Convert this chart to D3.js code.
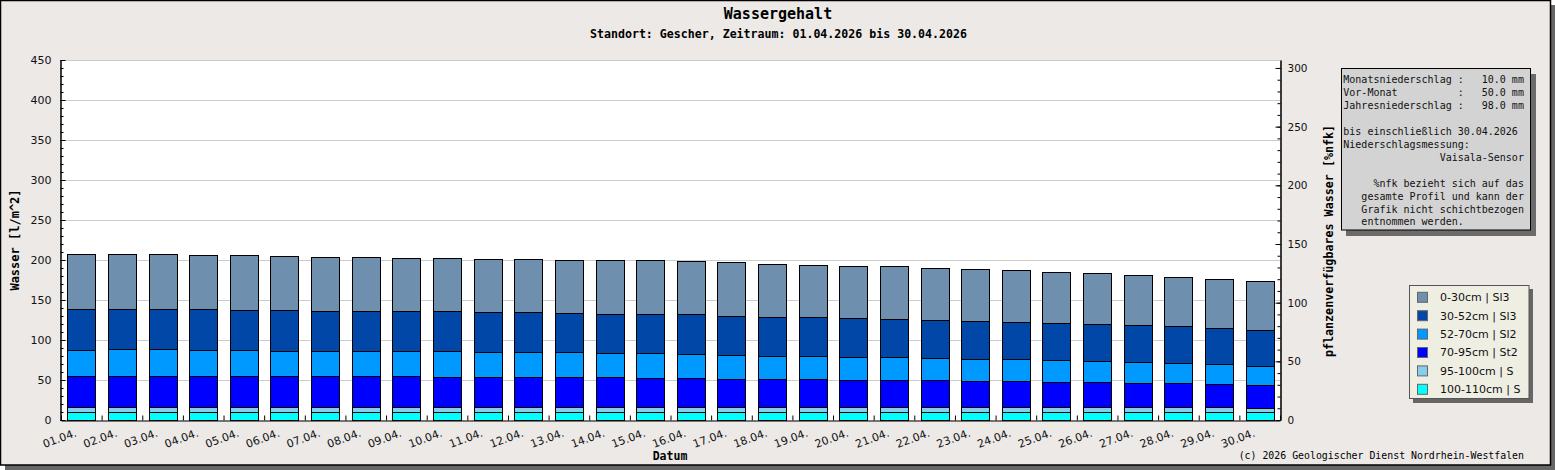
<!DOCTYPE html>
<html>
<head>
<meta charset="utf-8">
<script src="https://cdn.jsdelivr.net/npm/d3@7"></script>
<style>
  body { margin: 0; background: #fff; }
  svg { display: block; }
</style>
</head>
<body>
<script>
// Tageswerte Wassergehalt je Schicht (l/m^2), April 2026
const days = ["01.04.", "02.04.", "03.04.", "04.04.", "05.04.", "06.04.", "07.04.", "08.04.", "09.04.", "10.04.",
              "11.04.", "12.04.", "13.04.", "14.04.", "15.04.", "16.04.", "17.04.", "18.04.", "19.04.", "20.04.",
              "21.04.", "22.04.", "23.04.", "24.04.", "25.04.", "26.04.", "27.04.", "28.04.", "29.04.", "30.04."];

const layer0_30 = [68.8, 68.8, 68.8, 67.5, 68.7, 67.3, 68.4, 68.4, 67.1, 67.1,
                   67.1, 67.1, 67.1, 66.7, 67.5, 66.2, 67.5, 66.3, 65.0, 65.0,
                   66.3, 65.0, 65.0, 65.0, 63.8, 63.7, 62.5, 61.2, 61.2, 61.2];
const layer30_52 = [51.2, 50.0, 50.0, 51.2, 50.0, 51.3, 50.0, 50.0, 50.0, 50.0,
                    50.0, 50.0, 48.7, 49.6, 48.8, 50.0, 48.8, 48.7, 48.7, 48.8,
                    47.5, 47.5, 47.5, 46.3, 46.2, 46.3, 46.2, 46.3, 45.0, 45.0];
const layer52_70 = [32.1, 33.3, 33.3, 32.1, 32.1, 31.2, 31.2, 31.2, 31.2, 32.5,
                    31.3, 31.3, 31.3, 30.0, 31.2, 30.0, 30.0, 28.8, 28.8, 28.7,
                    28.7, 27.5, 27.5, 27.5, 27.5, 26.2, 26.3, 25.0, 25.0, 23.8];
const layer70_95 = [39.3, 39.3, 39.3, 39.3, 39.3, 38.9, 38.9, 38.9, 38.9, 37.6,
                    37.6, 37.6, 37.6, 37.6, 36.4, 36.4, 35.1, 35.1, 35.1, 33.9,
                    33.9, 33.9, 32.6, 32.6, 31.4, 31.4, 30.1, 30.1, 28.9, 27.9];
const layer95_100 = [5.2, 5.2, 5.2, 5.2, 5.2, 5.2, 5.2, 5.2, 5.2, 5.2,
                     5.2, 5.2, 5.2, 5.2, 5.2, 5.2, 5.2, 5.2, 5.2, 5.2,
                     5.2, 5.2, 5.2, 5.2, 5.2, 5.2, 5.2, 5.2, 5.2, 5.8];
const layer100_110 = [10.5, 10.5, 10.5, 10.5, 10.5, 10.5, 10.5, 10.5, 10.5, 10.5,
                      10.5, 10.5, 10.5, 10.5, 10.5, 10.5, 10.5, 10.5, 10.5, 10.5,
                      10.5, 10.5, 10.5, 10.5, 10.5, 10.5, 10.5, 10.5, 10.5, 9.6];

// von unten nach oben gestapelt
const layerNames = ["100-110cm | S", "95-100cm | S", "70-95cm | St2", "52-70cm | Sl2", "30-52cm | Sl3", "0-30cm | Sl3"];
const layerValues = [layer100_110, layer95_100, layer70_95, layer52_70, layer30_52, layer0_30];
const layerColors = ["#00ffff", "#87ceeb", "#0000ff", "#0099ff", "#0047a8", "#6f8fae"];

const leftTicks = [0, 50, 100, 150, 200, 250, 300, 350, 400, 450];
const rightTicks = [0, 50, 100, 150, 200, 250, 300];

const infoLines = [
  "Monatsniederschlag :   10.0 mm",
  "Vor-Monat          :   50.0 mm",
  "Jahresniederschlag :   98.0 mm",
  "",
  "bis einschließlich 30.04.2026",
  "Niederschlagsmessung:",
  "                Vaisala-Sensor",
  "",
  "     %nfk bezieht sich auf das",
  "   gesamte Profil und kann der",
  "   Grafik nicht schichtbezogen",
  "   entnommen werden."
];

const width = 1555, height = 470;
const mono = "'DejaVu Sans Mono', monospace";
const sans = "'DejaVu Sans', sans-serif";

const svg = d3.select("body").append("svg")
    .attr("width", width)
    .attr("height", height);

// Rahmen mit Schatten
svg.append("rect").attr("x", 5).attr("y", 5).attr("width", width - 5).attr("height", height - 5).attr("fill", "#666");
svg.append("rect").attr("x", 0.5).attr("y", 0.5).attr("width", 1550).attr("height", 464.5)
    .attr("fill", "#ece9e7").attr("stroke", "#000").attr("stroke-width", 1.5);

const table = days.map((d, i) => {
  const row = { day: d };
  layerNames.forEach((n, k) => row[n] = layerValues[k][i]);
  return row;
});
const series = d3.stack().keys(layerNames)(table);

const x = d3.scaleBand().domain(days).range([61, 1280]).paddingInner(0.31).paddingOuter(0.155);
const xl = d3.scaleLinear().domain([0, days.length]).range([61, 1280]);
const yL = d3.scaleLinear().domain([0, 450]).range([420, 60]);
const yR = d3.scaleLinear().domain([0, 306.8]).range([420, 60]);

// Plotfläche
svg.append("rect").attr("x", 61).attr("y", 60).attr("width", 1219).attr("height", 360).attr("fill", "#fff");

svg.append("g").selectAll("line")
  .data(leftTicks.filter(v => v > 0))
  .join("line")
    .attr("x1", 61).attr("x2", 1280)
    .attr("y1", d => Math.round(yL(d)) + 0.5).attr("y2", d => Math.round(yL(d)) + 0.5)
    .attr("stroke", "#cccccc");

// Balken
svg.append("g").selectAll("g")
  .data(series)
  .join("g")
    .attr("fill", (d, i) => layerColors[i])
  .selectAll("rect")
  .data(d => d)
  .join("rect")
    .attr("x", d => Math.round(x(d.data.day)) + 0.5)
    .attr("y", d => Math.round(yL(d[1])) + 0.5)
    .attr("width", Math.round(x.bandwidth()))
    .attr("height", d => Math.round(yL(d[0])) - Math.round(yL(d[1])))
    .attr("stroke", "#000")
    .attr("stroke-width", 1);

// Achsen
function styleAxis(g) {
  g.attr("font-family", sans).attr("font-size", 11);
  g.selectAll("text").attr("fill", "#111");
  g.selectAll("path,line").attr("stroke", "#000");
}

svg.append("g").attr("transform", "translate(60.5,0)")
    .call(d3.axisLeft(yL).tickValues(d3.range(0, 451, 10)).tickSize(-3).tickSizeOuter(0).tickFormat(""))
    .call(styleAxis);
svg.append("g").attr("transform", "translate(60.5,0)")
    .call(d3.axisLeft(yL).tickValues(leftTicks).tickSize(-5).tickSizeOuter(0).tickPadding(9))
    .call(styleAxis);

svg.append("g").attr("transform", "translate(1280.5,0)")
    .call(d3.axisRight(yR).tickValues(d3.range(0, 301, 10)).tickSize(-3).tickSizeOuter(0).tickFormat(""))
    .call(styleAxis);
svg.append("g").attr("transform", "translate(1280.5,0)")
    .call(d3.axisRight(yR).tickValues(rightTicks).tickSize(-5).tickSizeOuter(0).tickPadding(7))
    .call(styleAxis)
    .call(g => g.attr("font-size", 10.5));

svg.append("g").attr("transform", "translate(0,420.5)")
    .call(d3.axisBottom(xl).tickValues(d3.range(0, days.length + 1)).tickSize(-5).tickSizeOuter(0).tickFormat(""))
    .call(styleAxis);

svg.append("g").selectAll("text")
  .data(days)
  .join("text")
    .attr("transform", d => `translate(${x(d) + x.bandwidth() / 2 - 4},436) rotate(-20)`)
    .attr("text-anchor", "end")
    .attr("font-family", sans).attr("font-size", 11).attr("fill", "#111")
    .text(d => d);

// Titel
svg.append("text").attr("x", 778).attr("y", 19).attr("text-anchor", "middle")
    .attr("font-family", mono).attr("font-size", 15).attr("font-weight", "bold")
    .text("Wassergehalt");
svg.append("text").attr("x", 778.5).attr("y", 38).attr("text-anchor", "middle")
    .attr("font-family", mono).attr("font-size", 11.6).attr("font-weight", "bold")
    .text("Standort: Gescher, Zeitraum: 01.04.2026 bis 30.04.2026");

svg.append("text").attr("transform", "translate(19,240) rotate(-90)").attr("text-anchor", "middle")
    .attr("font-family", mono).attr("font-size", 12).attr("font-weight", "bold")
    .text("Wasser [l/m^2]");
svg.append("text").attr("transform", "translate(1333,241) rotate(-90)").attr("text-anchor", "middle")
    .attr("font-family", mono).attr("font-size", 11.7).attr("font-weight", "bold")
    .text("pflanzenverfügbares Wasser [%nfk]");
svg.append("text").attr("x", 670).attr("y", 460).attr("text-anchor", "middle")
    .attr("font-family", mono).attr("font-size", 11.5).attr("font-weight", "bold")
    .text("Datum");
svg.append("text").attr("x", 1524).attr("y", 459).attr("text-anchor", "end")
    .attr("font-family", mono).attr("font-size", 9.9)
    .text("(c) 2026 Geologischer Dienst Nordrhein-Westfalen");

// Infokasten
svg.append("rect").attr("x", 1346).attr("y", 74).attr("width", 190).attr("height", 162).attr("fill", "#6b6b6b");
svg.append("rect").attr("x", 1341.5).attr("y", 68.5).attr("width", 189).attr("height", 161.5)
    .attr("fill", "#d3d3d3").attr("stroke", "#000");
svg.append("g").selectAll("text")
  .data(infoLines)
  .join("text")
    .attr("x", 1343.3)
    .attr("y", (d, i) => 83 + i * 12.95)
    .attr("font-family", mono).attr("font-size", 10).attr("fill", "#111")
    .style("white-space", "pre")
    .text(d => d);

// Legende
svg.append("rect").attr("x", 1413).attr("y", 289).attr("width", 120).attr("height", 114).attr("fill", "#666");
svg.append("rect").attr("x", 1409.5).attr("y", 285.5).attr("width", 119.5).attr("height", 113)
    .attr("fill", "#eeeee3").attr("stroke", "#555");
const legendOrder = layerNames.map((n, i) => i).reverse();
const leg = svg.append("g").selectAll("g")
  .data(legendOrder)
  .join("g")
    .attr("transform", (d, i) => `translate(1417.5,${297.3 + i * 18.4})`);
leg.append("rect").attr("x", 0).attr("y", -5).attr("width", 10).attr("height", 10)
    .attr("fill", d => layerColors[d]).attr("stroke", "#666");
leg.append("text").attr("x", 22.5).attr("dy", "0.36em")
    .attr("font-family", sans).attr("font-size", 11).attr("fill", "#111")
    .text(d => layerNames[d]);
</script>
</body>
</html>
